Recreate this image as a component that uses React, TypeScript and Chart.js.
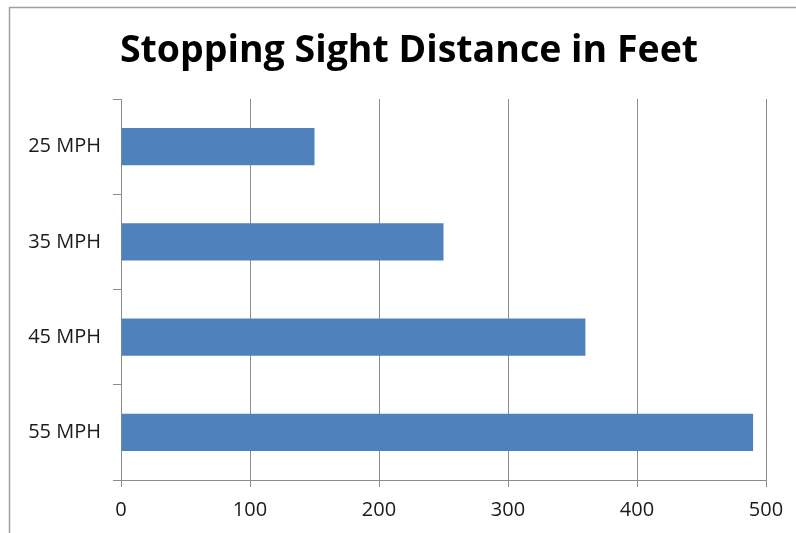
import React, { useEffect, useRef } from "react";
import { Chart, registerables } from "chart.js";

Chart.register(...registerables);

const categories = ["25 MPH", "35 MPH", "45 MPH", "55 MPH"];
const distances = [150, 250, 360, 490];
const xTicks = [0, 100, 200, 300, 400, 500];
const titleText = "Stopping Sight Distance in Feet";

const GRID = "#8c8c8c";
const BAR = "#4F81BD";
const TEXT = "#1a1a1a";

const framePlugin = {
  id: "frame",
  beforeDraw(chart: any) {
    const ctx = chart.ctx;
    ctx.save();
    ctx.fillStyle = "#ffffff";
    ctx.fillRect(0, 0, chart.width, chart.height);
    ctx.strokeStyle = "#a0a0a0";
    ctx.lineWidth = 1.5;
    ctx.beginPath();
    ctx.moveTo(9.5, chart.height);
    ctx.lineTo(9.5, 7.5);
    ctx.lineTo(chart.width, 7.5);
    ctx.stroke();
    ctx.restore();
  },
  afterDraw(chart: any) {
    const ctx = chart.ctx;
    ctx.save();
    ctx.fillStyle = "#000000";
    ctx.font = "bold 37.5px 'Open Sans'";
    ctx.textAlign = "center";
    ctx.textBaseline = "alphabetic";
    ctx.fillText(titleText, 409, 62);
    ctx.restore();
  },
};

export default function App() {
  const ref = useRef<HTMLCanvasElement | null>(null);
  useEffect(() => {
    if (!ref.current) return;
    const chart = new Chart(ref.current, {
      type: "bar",
      data: {
        labels: categories,
        datasets: [
          {
            label: "Distance",
            data: distances,
            backgroundColor: BAR,
            borderWidth: 0,
            categoryPercentage: 1,
            barPercentage: 0.39,
          },
        ],
      },
      options: {
        indexAxis: "y",
        animation: false,
        responsive: false,
        maintainAspectRatio: false,
        layout: { padding: { left: 0, right: 30, top: 99, bottom: 0 } },
        plugins: {
          legend: { display: false },
          tooltip: { enabled: false },
          title: { display: false },
        },
        scales: {
          x: {
            type: "linear",
            min: xTicks[0],
            max: xTicks[xTicks.length - 1],
            afterBuildTicks(scale: any) {
              scale.ticks = xTicks.map((v) => ({ value: v }));
            },
            afterFit(scale: any) {
              scale.height = 53;
            },
            grid: {
              color: GRID,
              lineWidth: 1,
              tickLength: 7,
              drawTicks: true,
            },
            border: { display: true, color: GRID, width: 1 },
            ticks: {
              color: TEXT,
              font: { family: "'Open Sans'", size: 20 },
              padding: 11,
              maxRotation: 0,
            },
          },
          y: {
            afterFit(scale: any) {
              scale.width = 121;
            },
            grid: {
              drawOnChartArea: false,
              drawTicks: true,
              tickLength: 8,
              color: GRID,
              lineWidth: 1,
            },
            border: { display: true, color: GRID, width: 1 },
            ticks: {
              color: TEXT,
              font: { family: "'Open Sans'", size: 20 },
              padding: 12,
            },
          },
        },
      },
      plugins: [framePlugin],
    } as any);
    return () => chart.destroy();
  }, []);
  return (
    <div style={{ position: "fixed", left: 0, top: 0, width: 796, height: 533, background: "#fff" }}>
      <canvas ref={ref} width={796} height={533} style={{ display: "block", width: 796, height: 533 }} />
    </div>
  );
}
